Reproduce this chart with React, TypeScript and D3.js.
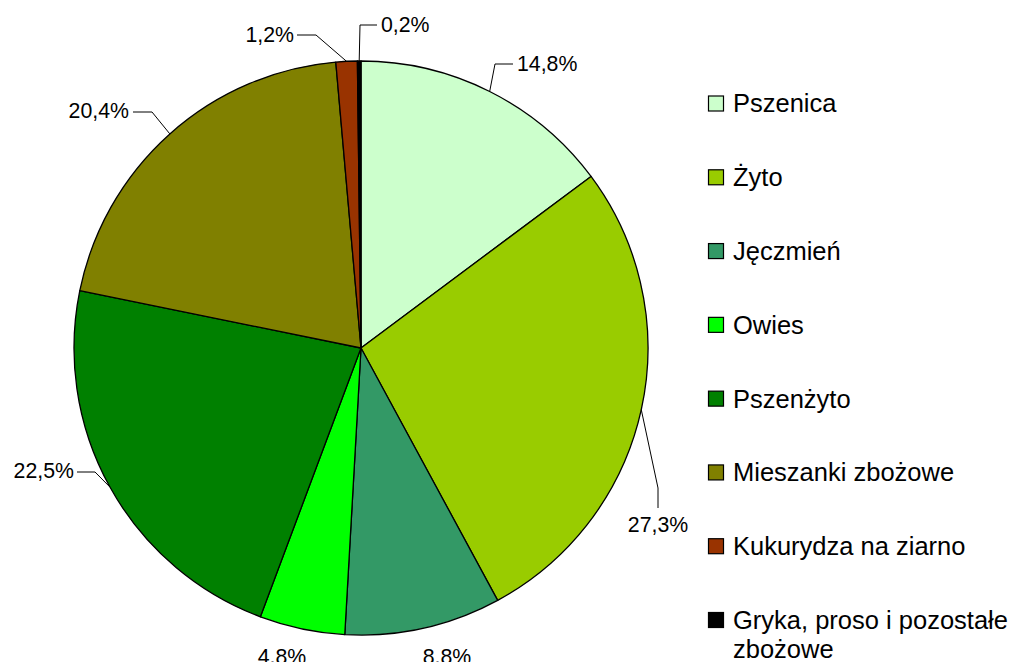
import React, { useRef, useEffect } from "react";
import * as d3 from "d3";

const categories = [
  "Pszenica",
  "Żyto",
  "Jęczmień",
  "Owies",
  "Pszenżyto",
  "Mieszanki zbożowe",
  "Kukurydza na ziarno",
  "Gryka, proso i pozostałe zbożowe",
];
const shares = [14.8, 27.3, 8.8, 4.8, 22.5, 20.4, 1.2, 0.2];
const colors = ["#CCFFCC", "#99CC00", "#339966", "#00FF00", "#008000", "#808000", "#993300", "#000000"];

// where each percentage label sits, and the bends of its leader line
const labelLayout = [
  { x: 517, y: 64, anchor: "start", bends: [[495, 64], [513, 64]] },
  { x: 658, y: 525, anchor: "middle", bends: [[658, 488], [658, 508]] },
  { x: 447, y: 657, anchor: "middle", bends: [] },
  { x: 282, y: 657, anchor: "middle", bends: [] },
  { x: 74, y: 471, anchor: "end", bends: [[95, 472], [77, 472]] },
  { x: 129, y: 111, anchor: "end", bends: [[152, 112], [133, 112]] },
  { x: 294, y: 35, anchor: "end", bends: [[316, 35], [297, 35]] },
  { x: 381, y: 25, anchor: "start", bends: [[360, 25], [377, 25]] },
];

const App = () => {
  const svgRef = useRef<SVGSVGElement>(null);

  useEffect(() => {
    const svg = d3.select(svgRef.current);
    svg.selectAll("*").remove();

    const width = 1014;
    const height = 662;
    const cx = 361;
    const cy = 348;
    const radius = 287;
    const font = "'Liberation Sans', Arial, sans-serif";

    const data = categories.map((name, i) => ({ name, value: shares[i], color: colors[i] }));

    const pie = d3
      .pie<any>()
      .value((d) => d.value)
      .sort(null);
    const arcs = pie(data);

    const arc = d3.arc<any>().innerRadius(0).outerRadius(radius);

    svg.append("rect").attr("width", width).attr("height", height).attr("fill", "white");

    const g = svg.append("g").attr("transform", `translate(${cx},${cy})`);

    g.selectAll("path")
      .data(arcs)
      .join("path")
      .attr("d", arc)
      .attr("fill", (d) => d.data.color)
      .attr("stroke", "#000")
      .attr("stroke-width", 1.3)
      .attr("stroke-linejoin", "round");

    // leader lines
    const line = d3.line();
    arcs.forEach((a, i) => {
      const lay = labelLayout[i];
      if (!lay.bends.length) return;
      const mid = (a.startAngle + a.endAngle) / 2;
      const start: [number, number] = [cx + radius * Math.sin(mid), cy - radius * Math.cos(mid)];
      svg
        .append("path")
        .attr("d", line([start, ...(lay.bends as [number, number][])]))
        .attr("fill", "none")
        .attr("stroke", "#000")
        .attr("stroke-width", 1);
    });

    // percentage labels
    svg
      .append("g")
      .selectAll("text")
      .data(arcs)
      .join("text")
      .attr("x", (d, i) => labelLayout[i].x)
      .attr("y", (d, i) => labelLayout[i].y)
      .attr("dy", "0.35em")
      .attr("text-anchor", (d, i) => labelLayout[i].anchor)
      .style("font-family", font)
      .style("font-size", "21.3px")
      .attr("fill", "#000")
      .text((d) => d.data.value.toFixed(1).replace(".", ",") + "%");

    // legend
    const legendY = d3
      .scaleLinear()
      .domain([0, categories.length - 1])
      .range([103.5, 620]);

    const legend = svg.append("g");
    const rows = legend
      .selectAll("g")
      .data(data)
      .join("g")
      .attr("transform", (d, i) => `translate(708,${legendY(i)})`);

    rows
      .append("rect")
      .attr("x", 0.5)
      .attr("y", -7.5)
      .attr("width", 15)
      .attr("height", 15)
      .attr("fill", (d) => d.color)
      .attr("stroke", "#000")
      .attr("stroke-width", 1.2);

    rows
      .append("text")
      .attr("x", 25)
      .attr("y", 0)
      .attr("dy", "0.35em")
      .style("font-family", font)
      .style("font-size", "25.5px")
      .attr("fill", "#000")
      .each(function (d) {
        const t = d3.select(this);
        if (d.name.startsWith("Gryka")) {
          t.append("tspan").attr("x", 25).text("Gryka, proso i pozostałe");
          t.append("tspan").attr("x", 25).attr("dy", "1.15em").text("zbożowe");
        } else {
          t.text(d.name);
        }
      });
  }, []);

  return (
    <svg
      ref={svgRef}
      width={1014}
      height={662}
      style={{ position: "absolute", left: 0, top: 0, display: "block" }}
    ></svg>
  );
};

export default App;
